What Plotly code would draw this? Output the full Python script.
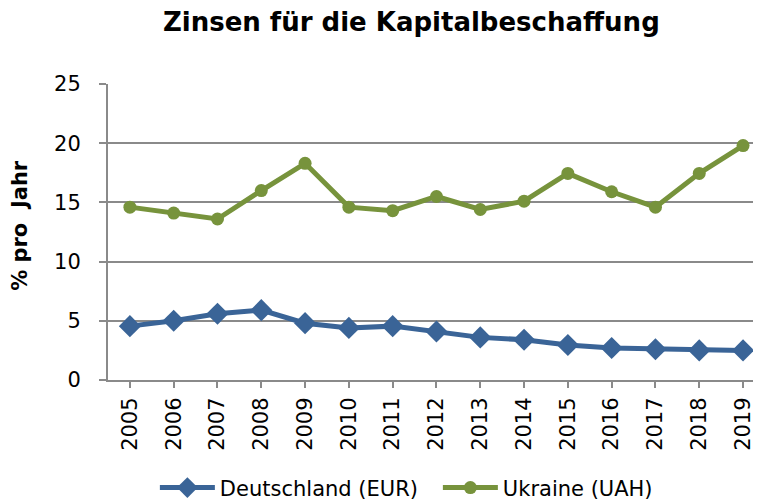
import plotly.graph_objects as go

years = list(range(2005, 2020))
deutschland = [4.55, 5.0, 5.6, 5.9, 4.8, 4.4, 4.55, 4.1, 3.6, 3.4, 2.95, 2.7, 2.6, 2.5, 2.5]
ukraine = [14.6, 14.1, 13.6, 16.0, 18.3, 14.6, 14.3, 15.5, 14.4, 15.1, 17.45, 15.9, 14.6, 17.45, 19.8]

title_text = "Zinsen für die Kapitalbeschaffung"
y_title = "% pro  Jahr"
names = ["Deutschland (EUR)", "Ukraine (UAH)"]

blue = "#3A6497"
green = "#77933C"
grid = "#8A8A8A"
font = "DejaVu Sans"

fig = go.Figure()
fig.add_trace(go.Scatter(x=years, y=deutschland, name=names[0], mode="lines+markers",
                         line=dict(color=blue, width=5),
                         marker=dict(symbol="diamond", size=17, color=blue)))
fig.add_trace(go.Scatter(x=years, y=ukraine, name=names[1], mode="lines+markers",
                         line=dict(color=green, width=5),
                         marker=dict(symbol="circle", size=13, color=green)))

# the page body adds an 8px offset; margins below compensate for it
fig.update_layout(
    width=761, height=501,
    margin=dict(l=100, r=8, t=76, b=129, autoexpand=False),
    paper_bgcolor="white", plot_bgcolor="white",
    font=dict(family=font, color="black", size=21),
    title=dict(text="<b>" + title_text + "</b>", x=0.53, xanchor="center", y=0.972, yanchor="middle",
               font=dict(family=font, size=26, color="black")),
    showlegend=True,
    legend=dict(orientation="h", x=0.193, xanchor="left", xref="container",
                y=0.042, yanchor="middle", yref="container",
                entrywidth=213, entrywidthmode="pixels",
                font=dict(family=font, size=21), itemwidth=55, tracegroupgap=0),
    xaxis=dict(range=[2004.5, 2019.41], tickmode="array", tickvals=years,
               ticktext=[str(y) for y in years], tickangle=-90, automargin=False,
               showgrid=False, zeroline=False, showline=True, linecolor=grid, linewidth=2,
               ticks="outside", ticklen=6, tickwidth=2, tickcolor=grid,
               ticklabelstandoff=1,
               tickfont=dict(family=font, size=21)),
    yaxis=dict(range=[0, 25], tickvals=[0, 5, 10, 15, 20, 25], automargin=False,
               showgrid=True, gridcolor=grid, gridwidth=2, zeroline=False,
               showline=True, linecolor=grid, linewidth=2,
               ticks="outside", ticklen=7, tickwidth=2, tickcolor=grid,
               ticklabelstandoff=14,
               tickfont=dict(family=font, size=21)),
    annotations=[dict(text="<b>" + y_title + "</b>", xref="paper", yref="paper",
                      x=-0.1348, y=0.524, xanchor="center", yanchor="middle",
                      textangle=-90, showarrow=False,
                      font=dict(family=font, size=21, color="black"))],
)

fig.write_html("out.html")
